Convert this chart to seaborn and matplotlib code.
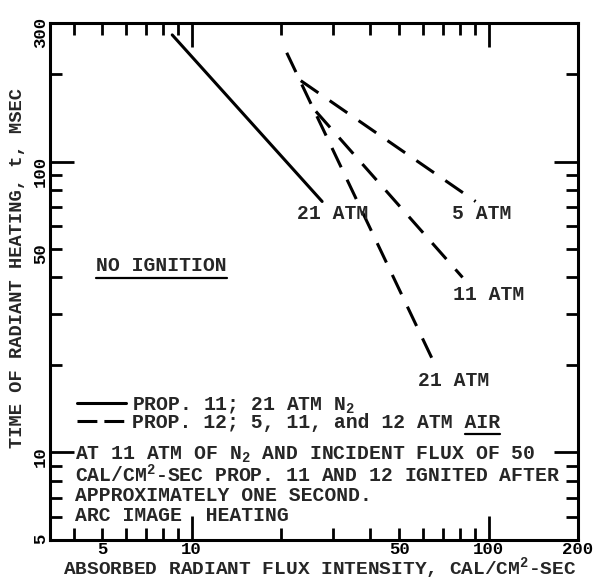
import numpy as np
import pandas as pd
import matplotlib
matplotlib.use('Agg')
import matplotlib.pyplot as plt
import seaborn as sns
from matplotlib.lines import Line2D
from matplotlib.ticker import FixedLocator, FuncFormatter

# end points of the curves
flux_prop11 = [8.6, 27.5]
time_prop11 = [273, 73]

flux_air5 = [23.3, 90.4]
time_air5 = [190, 73]
flux_air11 = [26.2, 81.7]
time_air11 = [149, 40]
flux_air21 = [20.9, 67.3]
time_air21 = [237, 19.2]

x_major = [10, 100]
x_minor = [4, 5, 6, 7, 8, 9, 20, 30, 40, 50, 60, 70, 80, 90, 200]
x_labeled = [5, 10, 50, 100, 200]
y_major = [10, 100]
y_minor = [5, 6, 7, 8, 9, 20, 30, 40, 50, 60, 70, 80, 90, 200, 300]
y_labeled = [5, 10, 50, 100, 300]

note_lines = [
    'AT 11 ATM OF N$\\mathregular{_2}$ AND INCIDENT FLUX OF 50',
    'CAL/CM$\\mathregular{^2}$-SEC PROP. 11 AND 12 IGNITED AFTER',
    'APPROXIMATELY ONE SECOND.',
    'ARC IMAGE  HEATING',
]

df = pd.DataFrame({
    'flux': flux_prop11 + flux_air5 + flux_air11 + flux_air21,
    'time': time_prop11 + time_air5 + time_air11 + time_air21,
    'prop': ['11'] * 2 + ['12'] * 6,
    'run': ['p11_21'] * 2 + ['air5'] * 2 + ['air11'] * 2 + ['air21'] * 2,
})

sns.set_theme(style='white')
plt.rcParams['font.family'] = ['Liberation Mono', 'DejaVu Sans Mono']
plt.rcParams['font.weight'] = 'bold'
plt.rcParams['axes.labelweight'] = 'bold'
FS = 14.2

fig = plt.figure(figsize=(5.98, 5.80), dpi=100)
ax = fig.add_axes([50 / 598, 40 / 580, 528 / 598, 517 / 580])
ax.set_xscale('log')
ax.set_yscale('log')

dash = (7, 4.5)
sns.lineplot(data=df, x='flux', y='time', style='prop', units='run',
             estimator=None, sort=False, color='black', lw=2.2,
             dashes={'11': '', '12': dash}, legend=False, ax=ax)

ax.set_xlim(10 / 3, 200)
ax.set_ylim(5, 300)

for s in ax.spines.values():
    s.set_linewidth(2.2)
    s.set_color('black')

fmt_x = FuncFormatter(lambda v, p: f'{v:g}' if round(v) in x_labeled else '')
fmt_y = FuncFormatter(lambda v, p: f'{v:g}' if round(v) in y_labeled else '')
ax.xaxis.set_major_locator(FixedLocator(x_major))
ax.xaxis.set_minor_locator(FixedLocator(x_minor))
ax.xaxis.set_major_formatter(fmt_x)
ax.xaxis.set_minor_formatter(fmt_x)
ax.yaxis.set_major_locator(FixedLocator(y_major))
ax.yaxis.set_minor_locator(FixedLocator(y_minor))
ax.yaxis.set_major_formatter(fmt_y)
ax.yaxis.set_minor_formatter(fmt_y)

ax.tick_params(which='both', direction='in', top=True, right=True,
               bottom=True, left=True,
               width=2, color='black', labelsize=12.5, labelcolor='black')
ax.tick_params(which='major', length=17)
ax.tick_params(which='minor', length=8.5)
ax.tick_params(axis='x', which='both', pad=1.5)
ax.tick_params(axis='y', which='both', pad=1.5, labelrotation=90)

ax.set_xlabel('ABSORBED RADIANT FLUX INTENSITY, CAL/CM$\\mathregular{^2}$-SEC',
              fontsize=14, labelpad=0)
ax.xaxis.set_label_coords(0.51, -0.029)
ax.set_ylabel('TIME OF RADIANT HEATING, t, MSEC', fontsize=13.5, labelpad=0)
ax.yaxis.set_label_coords(-0.045, 0.527)

# curve labels
ax.text(0.468, 0.632, '21 ATM', transform=ax.transAxes, fontsize=FS, va='center')
ax.text(0.761, 0.632, '5 ATM', transform=ax.transAxes, fontsize=FS, va='center')
ax.text(0.763, 0.474, '11 ATM', transform=ax.transAxes, fontsize=FS, va='center')
ax.text(0.697, 0.309, '21 ATM', transform=ax.transAxes, fontsize=FS, va='center')
no_ign = ax.text(0.087, 0.530, 'NO IGNITION', transform=ax.transAxes,
                 fontsize=FS, va='center')

handles = [Line2D([], [], color='black', lw=2.2),
           Line2D([], [], color='black', lw=2.2, dashes=(6.5, 2.3))]
labels = ['PROP. 11; 21 ATM N$\\mathregular{_2}$',
          'PROP. 12; 5, 11, and 12 ATM AIR']
leg = ax.legend(handles, labels, loc='upper left', bbox_to_anchor=(0.051, 0.281),
                frameon=False, borderpad=0, borderaxespad=0, handlelength=2.5,
                handletextpad=0.3, labelspacing=-0.1,
                prop={'size': FS, 'weight': 'bold'})

for line, yy in zip(note_lines, [0.164, 0.126, 0.087, 0.048]):
    ax.text(0.047, yy, line, transform=ax.transAxes, fontsize=FS, va='center')

# underlines
fig.canvas.draw()
inv = ax.transAxes.inverted()
bb = no_ign.get_window_extent()
(x0, y0), (x1, y1) = inv.transform([[bb.x0, bb.y0], [bb.x1, bb.y1]])
ax.plot([x0, x1], [y0 - 0.004, y0 - 0.004], transform=ax.transAxes,
        color='black', lw=1.6)
air = leg.get_texts()[1]
bb = air.get_window_extent()
txt = air.get_text()
cw = bb.width / len(txt)
(x0, y0), (x1, y1) = inv.transform([[bb.x1 - 3 * cw, bb.y0], [bb.x1, bb.y1]])
ax.plot([x0, x1], [y0 - 0.004, y0 - 0.004], transform=ax.transAxes,
        color='black', lw=1.6)

fig.savefig('out.png', dpi=100, facecolor='white')
